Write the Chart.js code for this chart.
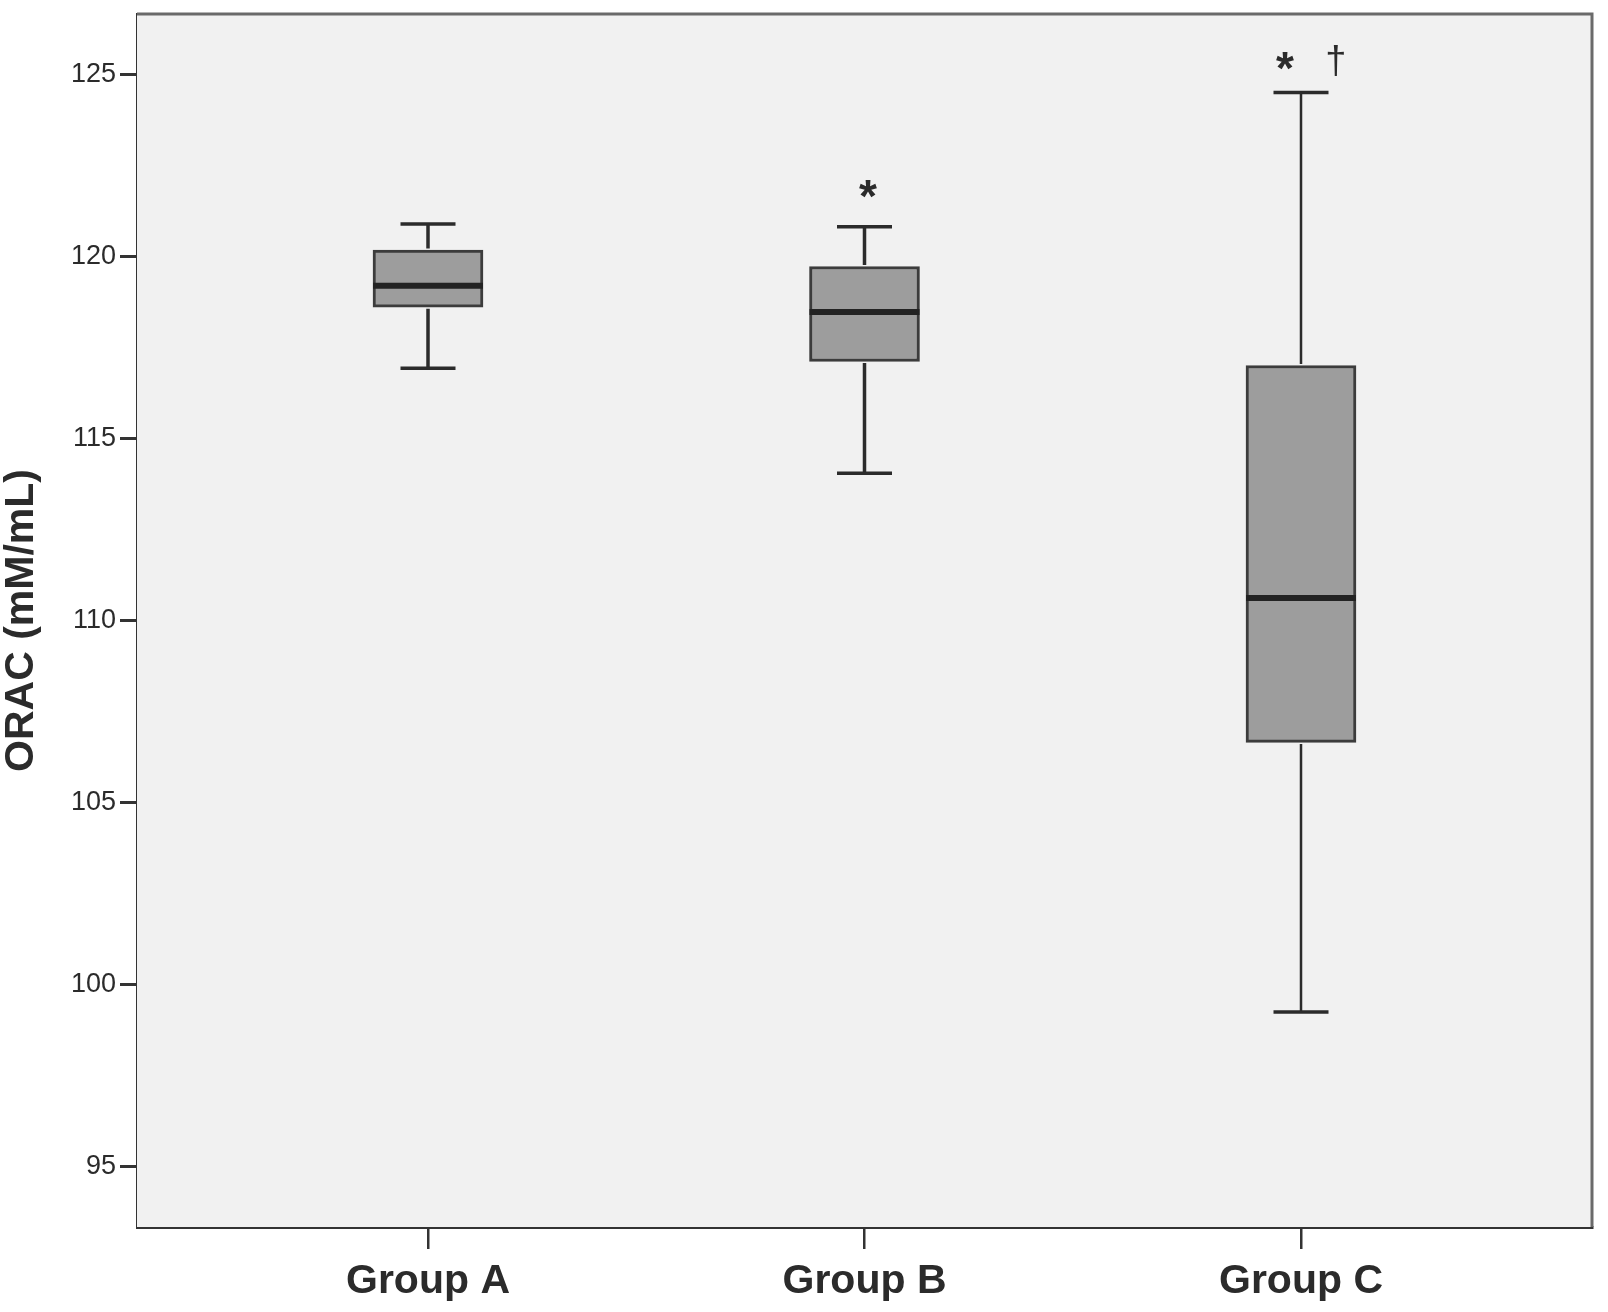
<!DOCTYPE html>
<html>
<head>
<meta charset="utf-8">
<script src="https://cdn.jsdelivr.net/npm/chart.js@4/dist/chart.umd.min.js"></script>
<style>
    html, body { margin: 0; padding: 0; background: #fff; }
    #wrap { width: 1608px; height: 1312px; }
</style>
</head>
<body>
<div id="wrap"><canvas id="c-box" width="1608" height="1312"></canvas></div>
<script>
const FONT = '"Liberation Sans", Arial, sans-serif';

/* ── Data ── */
const groups      = ['Group A', 'Group B', 'Group C'];
const groupPos    = [1, 2, 3];
const whiskerLow  = [116.93, 114.05, 99.24];
const q1          = [118.61, 117.12, 106.65];
const median      = [119.20, 118.48, 110.62];
const q3          = [120.18, 119.73, 117.01];
const whiskerHigh = [120.90, 120.82, 124.51];
const yTicks      = [95, 100, 105, 110, 115, 120, 125];

// significance marks above the boxes
const markText = ['*', '*', '\u2020'];
const markX    = [2.008, 2.963, 3.080];
const markY    = [121.85, 125.38, 125.38];

const ink = '#2b2b2b';

/* ── Plot background + frame ── */
const framePlugin = {
    id: 'frame',
    beforeDatasetsDraw(chart) {
        const { ctx, chartArea: a } = chart;
        ctx.save();
        ctx.fillStyle = '#f1f1f1';
        ctx.fillRect(a.left, a.top, a.right - a.left, a.bottom - a.top);
        ctx.restore();
    },
    afterDraw(chart) {
        const { ctx, chartArea: a } = chart;
        ctx.save();
        ctx.strokeStyle = '#6a6a6a';
        ctx.lineWidth = 3;
        ctx.beginPath();
        ctx.moveTo(a.left, a.top);
        ctx.lineTo(a.right, a.top);
        ctx.lineTo(a.right, a.bottom);
        ctx.stroke();
        ctx.restore();
    }
};

/* ── Whiskers, caps, medians, marks ── */
const boxPlugin = {
    id: 'boxParts',
    afterDatasetsDraw(chart) {
        const { ctx } = chart;
        const xs = chart.scales.x, ys = chart.scales.y;
        const meta = chart.getDatasetMeta(0);
        const wWidth = [3.5, 3.5, 2.5];
        ctx.save();
        ctx.strokeStyle = ink;
        ctx.lineCap = 'butt';
        groupPos.forEach((g, i) => {
            const cx = xs.getPixelForValue(g);
            const bw = meta.data[i].width;
            const cap = bw / 4;
            const yHi = ys.getPixelForValue(whiskerHigh[i]);
            const yLo = ys.getPixelForValue(whiskerLow[i]);
            const yQ1 = ys.getPixelForValue(q1[i]);
            const yQ3 = ys.getPixelForValue(q3[i]);
            const yMd = ys.getPixelForValue(median[i]);

            ctx.lineWidth = wWidth[i];
            ctx.beginPath();
            ctx.moveTo(cx, yHi); ctx.lineTo(cx, yQ3 - 1.5);
            ctx.moveTo(cx, yQ1 + 1.5); ctx.lineTo(cx, yLo);
            ctx.stroke();

            ctx.lineWidth = 3.5;
            ctx.beginPath();
            ctx.moveTo(cx - cap, yHi); ctx.lineTo(cx + cap, yHi);
            ctx.moveTo(cx - cap, yLo); ctx.lineTo(cx + cap, yLo);
            ctx.stroke();

            ctx.lineWidth = 6;
            ctx.strokeStyle = '#232323';
            ctx.beginPath();
            ctx.moveTo(cx - bw / 2, yMd); ctx.lineTo(cx + bw / 2, yMd);
            ctx.stroke();
            ctx.strokeStyle = ink;
        });

        ctx.fillStyle = ink;
        ctx.textAlign = 'center';
        ctx.textBaseline = 'alphabetic';
        markText.forEach((t, i) => {
            ctx.font = t === '*' ? `bold 46px ${FONT}` : `38px ${FONT}`;
            const m = ctx.measureText(t);
            const px = xs.getPixelForValue(markX[i]);
            const py = ys.getPixelForValue(markY[i]);
            ctx.fillText(t, px, py + (m.actualBoundingBoxAscent - m.actualBoundingBoxDescent) / 2);
        });
        ctx.restore();
    }
};

/* ── Chart ── */
new Chart(document.getElementById('c-box'), {
    type: 'bar',
    data: {
        datasets: [{
            data: groupPos.map((g, i) => ({ x: g, y: [q1[i], q3[i]] })),
            backgroundColor: '#9d9d9d',
            borderColor: '#3c3c3c',
            borderWidth: 3,
            borderSkipped: false,
            barThickness: 110
        }]
    },
    options: {
        responsive: false,
        animation: false,
        layout: { padding: { top: 14, right: 16, left: 0, bottom: 0 } },
        plugins: { legend: { display: false }, tooltip: { enabled: false } },
        scales: {
            x: {
                type: 'linear',
                offset: false,
                min: 1 / 3,
                max: 11 / 3,
                afterBuildTicks: s => { s.ticks = groupPos.map(v => ({ value: v })); },
                afterFit: s => { s.height = 85; },
                ticks: {
                    color: ink,
                    padding: 8,
                    font: { family: FONT, size: 41, weight: 'bold' },
                    callback: v => groups[groupPos.indexOf(v)] || ''
                },
                grid: { offset: false, drawOnChartArea: false, drawTicks: true, tickLength: 22, color: '#333', lineWidth: 2.5 },
                border: { display: true, color: '#333', width: 3 }
            },
            y: {
                min: 93.33,
                max: 126.67,
                afterBuildTicks: s => { s.ticks = yTicks.map(v => ({ value: v })); },
                afterFit: s => { s.width = 137; s.paddingTop = 0; s.paddingBottom = 0; },
                ticks: {
                    color: ink,
                    padding: 4,
                    font: { family: FONT, size: 27 }
                },
                grid: { drawOnChartArea: false, drawTicks: true, tickLength: 17, color: '#333', lineWidth: 3 },
                border: { display: true, color: '#333', width: 3 },
                title: {
                    display: true,
                    text: 'ORAC (mM/mL)',
                    color: ink,
                    padding: 0,
                    font: { family: FONT, size: 41, weight: 'bold', lineHeight: 1.05 }
                }
            }
        }
    },
    plugins: [framePlugin, boxPlugin]
});
</script>
</body>
</html>
